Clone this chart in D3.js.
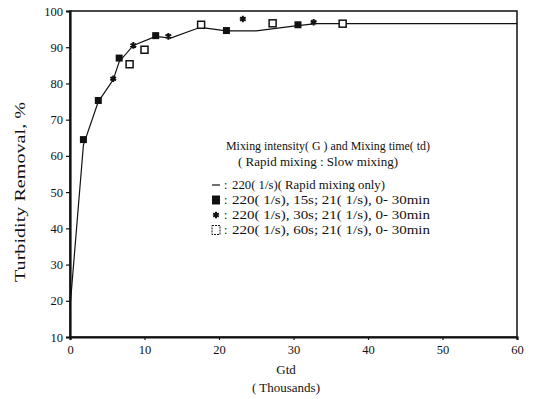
<!DOCTYPE html>
<html>
<head>
<meta charset="utf-8">
<script src="https://cdn.jsdelivr.net/npm/d3@7/dist/d3.min.js"></script>
<style>
  html, body { margin: 0; padding: 0; background: #fff; }
  svg { display: block; }
  text { font-family: "Liberation Serif", "DejaVu Serif", serif; fill: #111; }
</style>
</head>
<body>
<svg id="chart" width="533" height="399"></svg>
<script>
// Gtd (thousands) vs turbidity removal (%)
const rapidOnlyX = [0, 1.8, 3.8, 5.8, 6.6, 8.5, 11.5, 13.5, 17.5, 21, 25, 30, 33, 37, 45, 60];
const rapidOnlyY = [18, 63, 75, 81, 86, 90.5, 93, 92.5, 95.5, 94.5, 94.5, 95.8, 96.5, 96.5, 96.5, 96.5];

const slow15X = [1.8, 3.8, 6.6, 11.5, 21, 30.6];
const slow15Y = [64.5, 75.3, 87, 93.2, 94.6, 96.2];

const slow30X = [5.8, 8.5, 13.2, 23.2, 32.7];
const slow30Y = [81.3, 90.5, 93, 97.8, 96.9];

const slow60X = [8, 10, 17.6, 27.2, 36.6];
const slow60Y = [85.3, 89.3, 96.2, 96.6, 96.5];

const xTicks = [0, 10, 20, 30, 40, 50, 60];
const yTicks = [10, 20, 30, 40, 50, 60, 70, 80, 90, 100];

const legendTitle = ["Mixing intensity( G ) and Mixing time( td)", "( Rapid mixing : Slow mixing)"];
const legendItems = [
  "220( 1/s)( Rapid mixing only)",
  "220( 1/s), 15s; 21( 1/s), 0- 30min",
  "220( 1/s), 30s; 21( 1/s), 0- 30min",
  "220( 1/s), 60s; 21( 1/s), 0- 30min"
];

const svg = d3.select("#chart");
const m = { left: 70, right: 517, top: 11, bottom: 337 };

const x = d3.scaleLinear().domain([0, 60]).range([m.left, m.right]);
const y = d3.scaleLinear().domain([10, 100]).range([m.bottom, m.top]);

// frame
svg.append("rect")
  .attr("x", m.left).attr("y", m.top)
  .attr("width", m.right - m.left).attr("height", m.bottom - m.top)
  .attr("fill", "none").attr("stroke", "#111").attr("stroke-width", 1.5);

// axes
const xAxis = d3.axisBottom(x).tickValues(xTicks).tickSize(3).tickPadding(5).tickFormat(d3.format("d"));
const yAxis = d3.axisLeft(y).tickValues(yTicks).tickSize(4).tickPadding(3).tickFormat(d3.format("d"));

const gx = svg.append("g").attr("transform", `translate(0,${m.bottom})`).call(xAxis);
const gy = svg.append("g").attr("transform", `translate(${m.left},0)`).call(yAxis);
[gx, gy].forEach(g => {
  g.select(".domain").attr("stroke", "#111").attr("stroke-width", 2.2);
  g.selectAll(".tick line").attr("stroke", "#111").attr("stroke-width", 1.2);
  g.selectAll(".tick text").attr("font-size", 12.5).attr("font-family", "Liberation Serif, serif").attr("fill", "#111");
});

// axis titles
svg.append("text").attr("x", 286).attr("y", 374)
  .attr("text-anchor", "middle").attr("font-size", 13).text("Gtd");
svg.append("text").attr("x", 286).attr("y", 392)
  .attr("text-anchor", "middle").attr("font-size", 13).text("( Thousands)");
svg.append("text")
  .attr("transform", `translate(25,192) rotate(-90)`)
  .attr("text-anchor", "middle").attr("font-size", 14.5)
  .attr("textLength", 180).attr("lengthAdjust", "spacingAndGlyphs")
  .text("Turbidity Removal, %");

// rapid mixing only curve
const line = d3.line().x(d => x(d[0])).y(d => y(d[1]));
svg.append("path")
  .datum(d3.zip(rapidOnlyX, rapidOnlyY))
  .attr("d", line)
  .attr("fill", "none").attr("stroke", "#111").attr("stroke-width", 1.2);

// 15s: filled squares
svg.append("g").selectAll("rect")
  .data(d3.zip(slow15X, slow15Y)).join("rect")
  .attr("x", d => x(d[0]) - 3.5).attr("y", d => y(d[1]) - 3.5)
  .attr("width", 7).attr("height", 7).attr("fill", "#111");

// 30s: asterisks
const star = d3.symbol().type(d3.symbolAsterisk).size(30);
svg.append("g").selectAll("path")
  .data(d3.zip(slow30X, slow30Y)).join("path")
  .attr("transform", d => `translate(${x(d[0])},${y(d[1])})`)
  .attr("d", star).attr("fill", "none").attr("stroke", "#111").attr("stroke-width", 2);

// 60s: open squares
svg.append("g").selectAll("rect")
  .data(d3.zip(slow60X, slow60Y)).join("rect")
  .attr("x", d => x(d[0]) - 3.5).attr("y", d => y(d[1]) - 3.5)
  .attr("width", 7).attr("height", 7)
  .attr("fill", "#fff").attr("stroke", "#111").attr("stroke-width", 1.5);

// legend
const lg = svg.append("g");
const fs = 12;
lg.append("text").attr("x", 226).attr("y", 150).attr("font-size", fs)
  .attr("textLength", 204).attr("lengthAdjust", "spacingAndGlyphs").text(legendTitle[0]);
lg.append("text").attr("x", 238).attr("y", 166).attr("font-size", fs)
  .attr("textLength", 160).attr("lengthAdjust", "spacingAndGlyphs").text(legendTitle[1]);

const rowY = [189, 204, 219, 234];
const rowLen = [153, 198, 198, 198];
legendItems.forEach((t, i) => {
  lg.append("text").attr("x", 224).attr("y", rowY[i]).attr("font-size", fs).text(":");
  lg.append("text").attr("x", 232).attr("y", rowY[i]).attr("font-size", fs)
    .attr("textLength", rowLen[i]).attr("lengthAdjust", "spacingAndGlyphs").text(t);
});
const sx = 216;
lg.append("line").attr("x1", sx - 4).attr("x2", sx + 4)
  .attr("y1", rowY[0] - 4).attr("y2", rowY[0] - 4).attr("stroke", "#111").attr("stroke-width", 1.2);
lg.append("rect").attr("x", sx - 4).attr("y", rowY[1] - 8.5).attr("width", 8).attr("height", 9).attr("fill", "#111");
lg.append("path").attr("transform", `translate(${sx},${rowY[2] - 4})`).attr("d", star)
  .attr("fill", "none").attr("stroke", "#111").attr("stroke-width", 2);
lg.append("rect").attr("x", sx - 4).attr("y", rowY[3] - 8.5).attr("width", 8).attr("height", 9)
  .attr("fill", "#fff").attr("stroke", "#111").attr("stroke-width", 1).attr("stroke-dasharray", "2,1");
</script>
</body>
</html>
